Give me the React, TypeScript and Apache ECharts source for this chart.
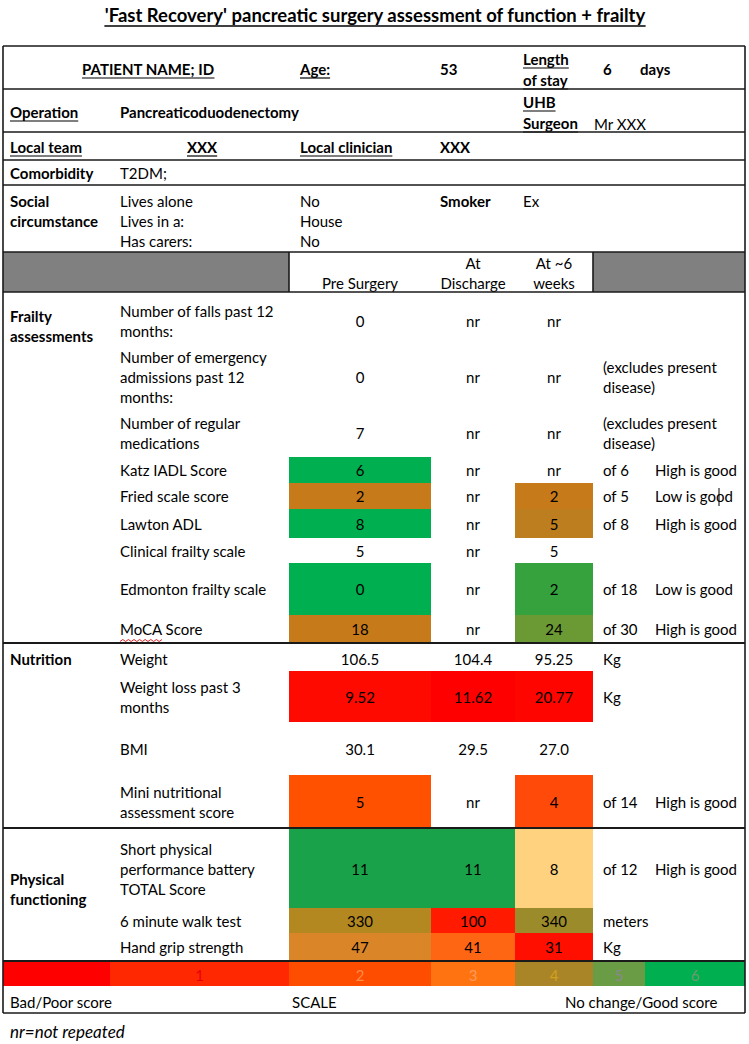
import React, { useEffect, useRef } from "react";
import * as echarts from "echarts";

// ---------------- DATA ----------------
const TITLE = "'Fast Recovery' pancreatic surgery assessment of function + frailty";

const patientLabel = "PATIENT NAME; ID";
const ageLabel = "Age:";
const age = "53";
const stayLabel = ["Length", "of stay"];
const stayDays = "6";
const stayUnit = "days";
const operationLabel = "Operation";
const operation = "Pancreaticoduodenectomy";
const surgeonLabel = ["UHB", "Surgeon"];
const surgeon = "Mr XXX";
const localTeamLabel = "Local team";
const localTeam = "XXX";
const clinicianLabel = "Local clinician";
const clinician = "XXX";
const comorbidityLabel = "Comorbidity";
const comorbidity = "T2DM;";
const socialLabel = "Social\ncircumstance";
const socialItems = ["Lives alone", "Lives in a:", "Has carers:"];
const socialValues = ["No", "House", "No"];
const smokerLabel = "Smoker";
const smoker = "Ex";

const timepoints = ["Pre Surgery", "At\nDischarge", "At ~6\nweeks"];

const frailtyLabel = "Frailty\nassessments";
const frailtyItems = [
  "Number of falls past 12\nmonths:",
  "Number of emergency\nadmissions past 12\nmonths:",
  "Number of regular\nmedications",
  "Katz IADL Score",
  "Fried scale score",
  "Lawton ADL",
  "Clinical frailty scale",
  "Edmonton frailty scale",
  "MoCA Score",
];
const frailtyPre = ["0", "0", "7", "6", "2", "8", "5", "0", "18"];
const frailtyDischarge = ["nr", "nr", "nr", "nr", "nr", "nr", "nr", "nr", "nr"];
const frailtyWeek6 = ["nr", "nr", "nr", "nr", "2", "5", "5", "2", "24"];
const frailtyUnit = ["", "(excludes present\ndisease)", "(excludes present\ndisease)", "of 6", "of 5", "of 8", "", "of 18", "of 30"];
const frailtyNote = ["", "", "", "High is good", "Low is good", "High is good", "", "Low is good", "High is good"];
const frailtyPreColor = [null, null, null, "#00B050", "#C77A1A", "#00B050", null, "#00B050", "#C77A1A"];
const frailtyDischargeColor = [null, null, null, null, null, null, null, null, null];
const frailtyWeek6Color = [null, null, null, null, "#C77A1A", "#BC7E1E", null, "#36A23E", "#6B9A34"];

const nutritionLabel = "Nutrition";
const nutritionItems = ["Weight", "Weight loss past 3\nmonths", "BMI", "Mini nutritional\nassessment score"];
const nutritionPre = ["106.5", "9.52", "30.1", "5"];
const nutritionDischarge = ["104.4", "11.62", "29.5", "nr"];
const nutritionWeek6 = ["95.25", "20.77", "27.0", "4"];
const nutritionUnit = ["Kg", "Kg", "", "of 14"];
const nutritionNote = ["", "", "", "High is good"];
const nutritionPreColor = [null, "#FF0A00", null, "#FF5100"];
const nutritionDischargeColor = [null, "#FF0000", null, null];
const nutritionWeek6Color = [null, "#FF0500", null, "#FF4A0A"];

const physicalLabel = "Physical\nfunctioning";
const physicalItems = ["Short physical\nperformance battery\nTOTAL Score", "6 minute walk test", "Hand grip strength"];
const physicalPre = ["11", "330", "47"];
const physicalDischarge = ["11", "100", "41"];
const physicalWeek6 = ["8", "340", "31"];
const physicalUnit = ["of 12", "meters", "Kg"];
const physicalNote = ["High is good", "", ""];
const physicalPreColor = ["#1AA24A", "#B38820", "#DA8628"];
const physicalDischargeColor = ["#1AA24A", "#FF1A00", "#FF6614"];
const physicalWeek6Color = ["#FFD27F", "#9C8B2B", "#FF0F00"];

const scaleLabels = ["", "1", "2", "3", "4", "5", "6"];
const scaleColors = ["#FF0000", "#FF2800", "#FF4D00", "#FF7411", "#A98527", "#6A9B45", "#00B050"];
const scaleTextColors = ["#FF0000", "#E8000A", "#FF8B4A", "#FF9A5A", "#D2A01E", "#8A8A8A", "#6F9A70"];
const scaleCaptions = ["Bad/Poor score", "SCALE", "No change/Good score"];
const footnote = "nr=not repeated";

// ---------------- LAYOUT ----------------
const FONT = "Lato, 'Noto Sans', sans-serif";
const FS = 15;
const LEFT = 3;
const RIGHT = 745;
const COL_A = 10;
const COL_B = 120;
const COL_EDGES = [289, 431, 515, 593];
const COL_UNIT = 603;
const COL_NOTE = 655;
const HLINES = [46, 89, 132, 160, 185, 252, 292, 1013];
const THICK_LINES = [643, 828, 961];
const FRAILTY_EDGES = [297, 344, 409, 457, 483, 509, 538, 563, 615, 642];
const NUTRITION_EDGES = [646, 671, 722, 775, 828];
const PHYSICAL_EDGES = [829, 908, 933, 960];
const SCALE_EDGES = [LEFT, 110, 289, 431, 515, 593, 645, RIGHT];
const SCALE_TOP = 962;
const SCALE_BOTTOM = 986;

export default function App() {
  const ref = useRef<HTMLDivElement>(null);

  useEffect(() => {
    const chart = echarts.init(ref.current!, null, { renderer: "svg" });
    const els: any[] = [];
    const ctx = document.createElement("canvas").getContext("2d")!;
    const measure = (s: string, size: number, bold: boolean) => {
      ctx.font = `${bold ? "bold " : ""}${size}px ${FONT}`;
      return ctx.measureText(s).width;
    };
    const text = (
      x: number,
      y: number,
      s: string,
      o: { bold?: boolean; align?: string; size?: number; color?: string; italic?: boolean; underline?: boolean } = {}
    ) => {
      if (!s) return;
      const size = o.size ?? FS;
      const align = o.align ?? "left";
      els.push({
        type: "text",
        x,
        y,
        silent: true,
        style: {
          text: s,
          fill: o.color ?? "#000",
          font: `${o.italic ? "italic " : ""}${o.bold ? "bold " : ""}${size}px ${FONT}`,
          align,
          verticalAlign: "middle",
          textAlign: align,
          textVerticalAlign: "middle",
          lineHeight: 20,
        },
      });
      if (o.underline) {
        const w = measure(s, size, !!o.bold);
        const x0 = align === "center" ? x - w / 2 : align === "right" ? x - w : x;
        const uy = y + size * 0.6;
        els.push({
          type: "line",
          silent: true,
          shape: { x1: x0, y1: uy, x2: x0 + w, y2: uy },
          style: { stroke: o.color ?? "#000", lineWidth: size > 16 ? 1.5 : 1.2 },
        });
      }
    };
    const rect = (x1: number, y1: number, x2: number, y2: number, fill: string) => {
      els.push({ type: "rect", silent: true, shape: { x: x1, y: y1, width: x2 - x1, height: y2 - y1 }, style: { fill } });
    };
    const hline = (y: number, w: number, x1 = LEFT, x2 = RIGHT) => {
      els.push({ type: "line", silent: true, shape: { x1, y1: y, x2, y2: y }, style: { stroke: "#1a1a1a", lineWidth: w } });
    };
    const vline = (x: number, y1: number, y2: number, w: number) => {
      els.push({ type: "line", silent: true, shape: { x1: x, y1, x2: x, y2 }, style: { stroke: "#1a1a1a", lineWidth: w } });
    };

    // title
    text(375, 15, TITLE, { bold: true, size: 18.5, align: "center", underline: true });

    // header rows
    text(82, 69, patientLabel, { bold: true, underline: true });
    text(300, 69, ageLabel, { bold: true, underline: true });
    text(440, 69, age, { bold: true });
    text(523, 59, stayLabel[0], { bold: true, underline: true });
    text(523, 80, stayLabel[1], { bold: true, underline: true });
    text(603, 69, stayDays, { bold: true });
    text(640, 69, stayUnit, { bold: true });

    text(COL_A, 112, operationLabel, { bold: true, underline: true });
    text(COL_B, 112, operation, { bold: true });
    text(523, 102, surgeonLabel[0], { bold: true, underline: true });
    text(523, 123, surgeonLabel[1], { bold: true, underline: true });
    text(594, 124, surgeon);

    text(COL_A, 147, localTeamLabel, { bold: true, underline: true });
    text(187, 147, localTeam, { bold: true, underline: true });
    text(300, 147, clinicianLabel, { bold: true, underline: true });
    text(440, 147, clinician, { bold: true });

    text(COL_A, 173, comorbidityLabel, { bold: true });
    text(COL_B, 173, comorbidity);

    text(COL_A, 211, socialLabel, { bold: true });
    socialItems.forEach((s, i) => text(COL_B, 201 + i * 20, s));
    socialValues.forEach((s, i) => text(300, 201 + i * 20, s));
    text(440, 201, smokerLabel, { bold: true });
    text(523, 201, smoker);

    // grey header
    rect(LEFT, 252, RIGHT, 292, "#808080");
    rect(COL_EDGES[0], 252, COL_EDGES[3], 292, "#ffffff");
    const colCenters = [0, 1, 2].map((i) => (COL_EDGES[i] + COL_EDGES[i + 1]) / 2);
    timepoints.forEach((t, i) => {
      const lines = t.split("\n");
      lines.forEach((l, j) => text(colCenters[i], 283 - (lines.length - 1 - j) * 20, l, { align: "center" }));
    });

    // sections
    const section = (
      edges: number[],
      items: string[],
      vals: string[][],
      colors: (string | null)[][],
      units: string[],
      notes: string[]
    ) => {
      items.forEach((item, r) => {
        const y1 = edges[r];
        const y2 = edges[r + 1];
        vals.forEach((col, c) => {
          const fill = colors[c][r];
          if (fill) rect(COL_EDGES[c], y1, COL_EDGES[c + 1], y2, fill);
        });
      });
      items.forEach((item, r) => {
        const cy = (edges[r] + edges[r + 1]) / 2;
        text(COL_B, cy, item);
        vals.forEach((col, c) => text(colCenters[c], cy, col[r], { align: "center" }));
        text(COL_UNIT, cy, units[r]);
        text(COL_NOTE, cy, notes[r]);
      });
    };

    section(
      FRAILTY_EDGES,
      frailtyItems,
      [frailtyPre, frailtyDischarge, frailtyWeek6],
      [frailtyPreColor, frailtyDischargeColor, frailtyWeek6Color],
      frailtyUnit,
      frailtyNote
    );
    text(COL_A, 326, frailtyLabel, { bold: true });

    section(
      NUTRITION_EDGES,
      nutritionItems,
      [nutritionPre, nutritionDischarge, nutritionWeek6],
      [nutritionPreColor, nutritionDischargeColor, nutritionWeek6Color],
      nutritionUnit,
      nutritionNote
    );
    text(COL_A, 659, nutritionLabel, { bold: true });

    section(
      PHYSICAL_EDGES,
      physicalItems,
      [physicalPre, physicalDischarge, physicalWeek6],
      [physicalPreColor, physicalDischargeColor, physicalWeek6Color],
      physicalUnit,
      physicalNote
    );
    text(COL_A, 889, physicalLabel, { bold: true });

    // spell-check squiggle under "MoCA" and text cursor
    const sq: number[][] = [];
    for (let i = 0; i <= 15; i++) sq.push([COL_B + i * 2.8, 641 + (i % 2 ? -1.5 : 0.5)]);
    els.push({ type: "polyline", silent: true, shape: { points: sq }, style: { stroke: "#e02020", lineWidth: 1, fill: null } });
    els.push({ type: "line", silent: true, shape: { x1: 719, y1: 488, x2: 719, y2: 506 }, style: { stroke: "#000", lineWidth: 1 } });

    // scale bar
    scaleColors.forEach((c, i) => {
      rect(SCALE_EDGES[i], SCALE_TOP, SCALE_EDGES[i + 1], SCALE_BOTTOM, c);
      text((SCALE_EDGES[i] + SCALE_EDGES[i + 1]) / 2, (SCALE_TOP + SCALE_BOTTOM) / 2 + 1, scaleLabels[i], {
        align: "center",
        color: scaleTextColors[i],
      });
    });
    text(COL_A, 1002, scaleCaptions[0]);
    text(292, 1002, scaleCaptions[1]);
    text(565, 1002, scaleCaptions[2]);

    // lines
    HLINES.forEach((y) => hline(y, 1.6));
    THICK_LINES.forEach((y) => hline(y, 2));
    vline(LEFT, 46, 1013, 1.6);
    vline(RIGHT, 46, 1013, 1.6);
    vline(COL_EDGES[0], 252, 292, 1.6);
    vline(COL_EDGES[3], 252, 292, 1.6);

    text(COL_A, 1031, footnote, { italic: true, size: 17 });

    chart.setOption({
      animation: false,
      backgroundColor: "#ffffff",
      graphic: { elements: els },
    });
    return () => chart.dispose();
  }, []);

  return <div ref={ref} style={{ position: "fixed", left: 0, top: 0, width: 749, height: 1044, background: "#fff" }} />;
}
